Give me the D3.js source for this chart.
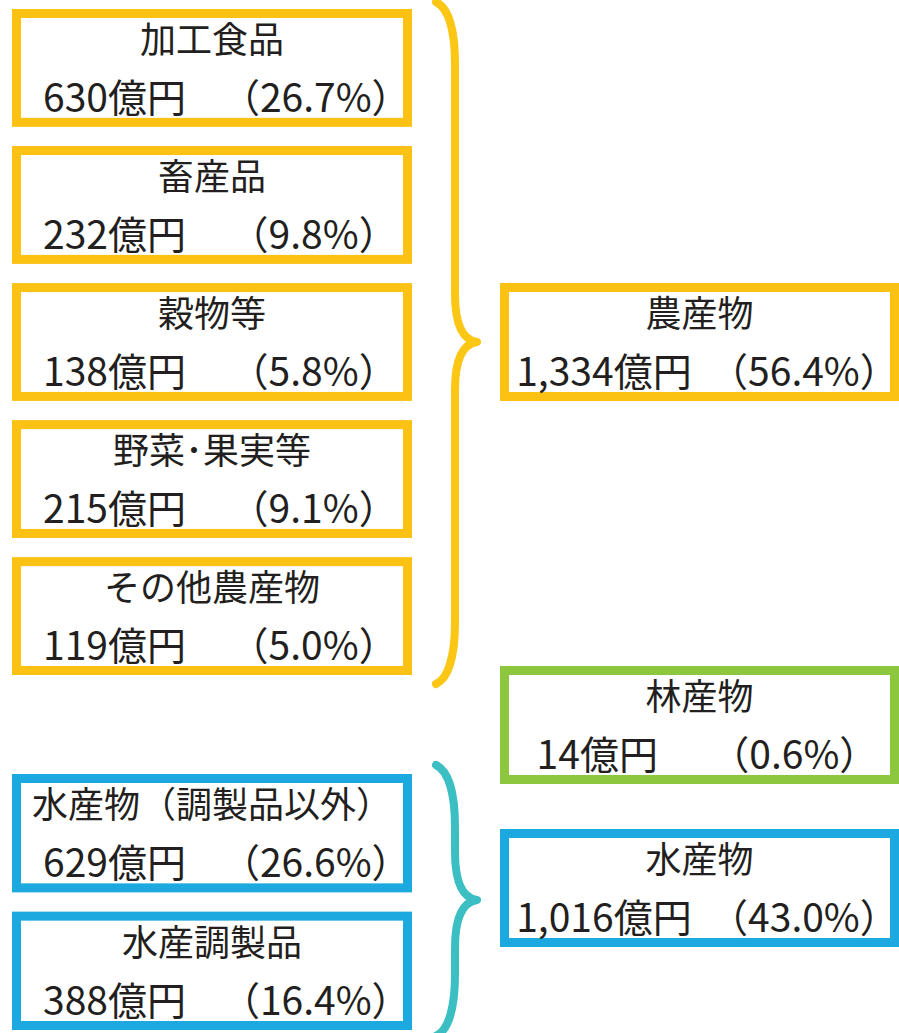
<html>
<head>
<meta charset="utf-8">
<script src="https://d3js.org/d3.v7.min.js"></script>
<style>
    body { margin: 0; background: #fff; }
    svg { font-family: "Noto Sans CJK JP", sans-serif; }
    .title { font-size: 36px; fill: #231f20; }
    .value { font-size: 39px; fill: #231f20; white-space: pre; }
    .box { fill: #fff; stroke-width: 9; }
    .brace { fill: none; stroke-width: 8; stroke-linecap: round; stroke-linejoin: round; }
</style>
</head>
<body>
<div id="chart"></div>
<script>
// 内訳（左の列）
var subNames = ["加工食品", "畜産品", "穀物等", "野菜･果実等", "その他農産物", "水産物（調製品以外）", "水産調製品"];
var subValues = [630, 232, 138, 215, 119, 629, 388];
var subShares = [26.7, 9.8, 5.8, 9.1, 5.0, 26.6, 16.4];
var subGroups = ["農産物", "農産物", "農産物", "農産物", "農産物", "水産物", "水産物"];

// 合計（右の列）
var mainNames = ["農産物", "林産物", "水産物"];
var mainValues = [1334, 14, 1016];
var mainShares = [56.4, 0.6, 43.0];

var width = 899, height = 1033;
var colors = { "農産物": "#fbc113", "林産物": "#8dc63f", "水産物": "#1ba9df" };
var braceColors = { "農産物": "#fcc614", "水産物": "#3bbfc3" };

var svg = d3.select("#chart").append("svg")
    .attr("width", width)
    .attr("height", height);

var fmt = d3.format(",");

// 値の行: 金額と割合の間を空白でそろえる
function valueText(v, s, gap) {
    var amt = fmt(v) + "億円";
    var pct = s.toFixed(1);
    var pad = " ".repeat(Math.max(0, 7 - amt.length) + gap) + " ".repeat(4 - pct.length);
    return amt + pad + "（" + pct + "%）";
}

/* Scales */
var leftX = { x0: 12, x1: 412 };
var rightX = { x0: 500, x1: 899 };

var bandOf = {
    "農産物": d3.scaleBand().domain(d3.range(5)).range([9, 675]).paddingInner(0.14),
    "水産物": d3.scaleBand().domain(d3.range(2)).range([774, 1030]).paddingInner(0.14)
};

var yRight = d3.scaleOrdinal().domain(mainNames).range([283, 666, 829]);
var boxH = 118;

var subData = subNames.map(function(n, i) {
    var g = subGroups[i];
    var idx = subGroups.slice(0, i).filter(function(x) { return x === g; }).length;
    return { name: n, value: subValues[i], share: subShares[i], group: g, y: bandOf[g](idx), h: bandOf[g].bandwidth() };
});

var mainData = mainNames.map(function(n, i) {
    return { name: n, value: mainValues[i], share: mainShares[i], y: yRight(n), h: boxH };
});

/* Braces */
function bracePath(xEnd, xLine, xTip, yTop, yMid, yBot) {
    var p = d3.path();
    p.moveTo(xEnd, yTop);
    p.bezierCurveTo(xLine - 6, yTop + 6, xLine, yTop + 30, xLine, yTop + 62);
    p.lineTo(xLine, yMid - 48);
    p.bezierCurveTo(xLine, yMid - 18, xLine + 8, yMid - 2, xTip, yMid);
    p.bezierCurveTo(xLine + 8, yMid + 2, xLine, yMid + 18, xLine, yMid + 48);
    p.lineTo(xLine, yBot - 62);
    p.bezierCurveTo(xLine, yBot - 30, xLine - 6, yBot - 6, xEnd, yBot);
    return p.toString();
}

var braces = [
    { group: "農産物", yTop: 2, yBot: 684, yMid: yRight("農産物") + boxH / 2 },
    { group: "水産物", yTop: 765, yBot: 1036, yMid: 900 }
];

svg.selectAll(".brace")
    .data(braces).enter()
    .append("path")
    .attr("class", "brace")
    .attr("stroke", function(d) { return braceColors[d.group]; })
    .attr("d", function(d) { return bracePath(436, 455, 477, d.yTop, d.yMid, d.yBot); });

/* Left boxes */
var left = svg.selectAll(".sub")
    .data(subData).enter()
    .append("g")
    .attr("class", "sub")
    .attr("transform", function(d) { return "translate(" + leftX.x0 + "," + d.y + ")"; });

left.append("rect")
    .attr("class", "box")
    .attr("x", 4.5).attr("y", 4.5)
    .attr("width", leftX.x1 - leftX.x0 - 9)
    .attr("height", function(d) { return d.h - 9; })
    .attr("stroke", function(d) { return colors[d.group]; });

left.append("text")
    .attr("class", "title")
    .attr("x", (leftX.x1 - leftX.x0) / 2)
    .attr("y", 44)
    .attr("text-anchor", "middle")
    .text(function(d) { return d.name; });

left.append("text")
    .attr("class", "value")
    .attr("x", 31)
    .attr("y", 103)
    .text(function(d) { return valueText(d.value, d.share, 2); });

/* Right boxes */
var right = svg.selectAll(".main")
    .data(mainData).enter()
    .append("g")
    .attr("class", "main")
    .attr("transform", function(d) { return "translate(" + rightX.x0 + "," + d.y + ")"; });

right.append("rect")
    .attr("class", "box")
    .attr("x", 4.5).attr("y", 4.5)
    .attr("width", rightX.x1 - rightX.x0 - 9)
    .attr("height", function(d) { return d.h - 9; })
    .attr("stroke", function(d) { return colors[d.name]; });

right.append("text")
    .attr("class", "title")
    .attr("x", (rightX.x1 - rightX.x0) / 2)
    .attr("y", 44)
    .attr("text-anchor", "middle")
    .text(function(d) { return d.name; });

right.append("text")
    .attr("class", "value")
    .attr("x", (rightX.x1 - rightX.x0) / 2 + 8)
    .attr("y", 103)
    .attr("text-anchor", "middle")
    .text(function(d) { return valueText(d.value, d.share, 2); });
</script>
</body>
</html>
